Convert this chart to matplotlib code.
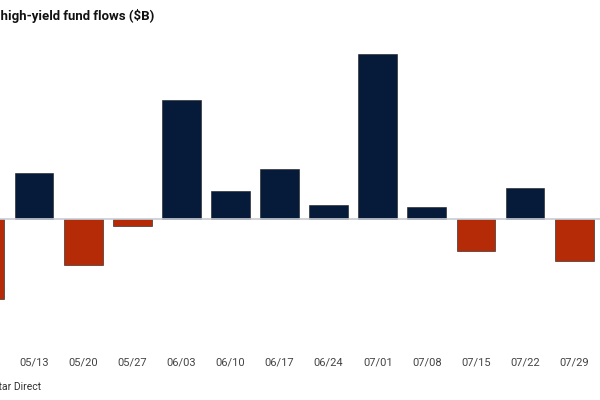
import matplotlib.pyplot as plt

weeks = ['05/06', '05/13', '05/20', '05/27', '06/03', '06/10', '06/17',
         '06/24', '07/01', '07/08', '07/15', '07/22', '07/29']
flows = [-3.22, 1.85, -1.85, -0.29, 4.75, 1.12, 1.99,
         0.55, 6.58, 0.48, -1.29, 1.22, -1.69]

navy = '#061a3a'
red = '#b52a07'
colors = [navy if v >= 0 else red for v in flows]

fig = plt.figure(figsize=(6, 4), dpi=100)
ax = fig.add_axes([0, 0.2, 1, 0.7])

x = list(range(len(weeks)))
ax.bar(x, flows, width=0.79, color=colors, edgecolor='#1a1a1a',
       linewidth=0.4, zorder=2)
ax.axhline(0, color='#c8ccd4', linewidth=1.2, zorder=3)

for s in ax.spines.values():
    s.set_visible(False)
ax.set_yticks([])
# first week is cut off at the left edge, so no label for it
ax.set_xticks(x[1:])
ax.set_xticklabels(weeks[1:], family=['Roboto', 'DejaVu Sans'],
                   fontsize=8, color='#444444')
ax.tick_params(axis='x', length=0, pad=27)
ax.set_xlim(0.3075, 12.527)
ax.set_ylim(-4.048, 7.152)

fig.text(154 / 600, 1 - 16 / 400, 'Weekly high-yield fund flows ($B)',
         ha='right', va='center', fontsize=9.5, fontweight='bold',
         family=['Roboto', 'DejaVu Sans'], color='#111111')
fig.text(41 / 600, 1 - 387 / 400, 'Source: Morningstar Direct',
         ha='right', va='center', fontsize=7.5,
         family=['Roboto', 'DejaVu Sans'], color='#333333')

fig.savefig('out.png', dpi=100)
